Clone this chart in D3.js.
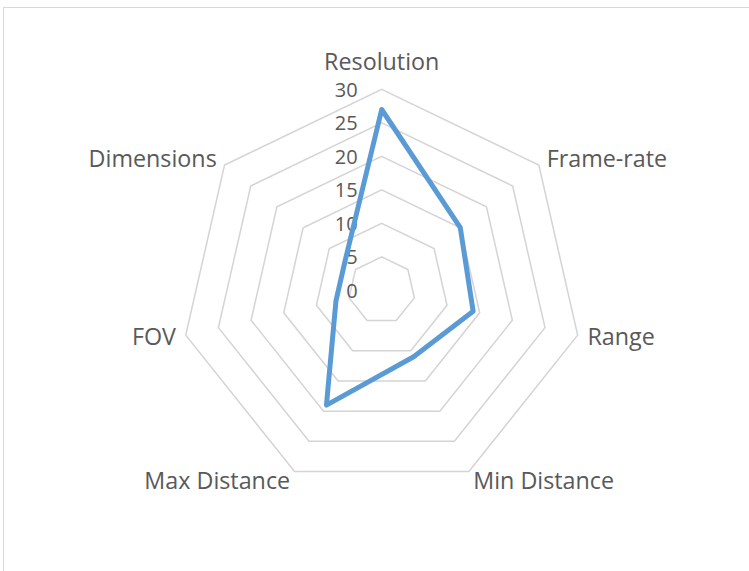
<!DOCTYPE html>
<html><head><meta charset="utf-8">
<script src="https://cdn.jsdelivr.net/npm/d3@7"></script>
<style>html,body{margin:0;padding:0;background:#fff;}svg{display:block;}</style>
</head><body>
<svg id="chart" width="749" height="571"></svg>
<script>
const categories = ["Resolution", "Frame-rate", "Range", "Min Distance", "Max Distance", "FOV", "Dimensions"];
const values = [27, 15, 14, 11, 19, 7, 7];
const tickValues = [0, 5, 10, 15, 20, 25, 30];

const svg = d3.select("#chart");
const cx = 381.7, cy = 290.4, R = 201;
const font = "'Open Sans', 'Liberation Sans', sans-serif";
const textColor = "#595959";

// chart border
svg.append("rect").attr("x", 3.5).attr("y", 7.5).attr("width", 800).attr("height", 600)
  .attr("fill", "none").attr("stroke", "#d9d9d9").attr("stroke-width", 1);

const r = d3.scaleLinear().domain([0, 30]).range([0, R]);
const ang = i => i * 2 * Math.PI / categories.length;

const g = svg.append("g").attr("transform", `translate(${cx},${cy})`);

// grid rings
const ringLine = d3.lineRadial().angle((d, i) => ang(i)).radius(d => r(d)).curve(d3.curveLinearClosed);
tickValues.filter(t => t > 0).forEach(t => {
  g.append("path").attr("d", ringLine(categories.map(() => t)))
    .attr("fill", "none").attr("stroke", "#d4d4d4").attr("stroke-width", 1.5);
});

// tick labels
tickValues.forEach(t => {
  g.append("text").attr("x", -24).attr("y", -r(t)).attr("dy", "0.36em")
    .attr("text-anchor", "end").attr("font-family", font).attr("font-size", 20)
    .attr("fill", textColor).text(t);
});

// category labels
categories.forEach((c, i) => {
  const a = ang(i);
  const lr = R + 10;
  const x = lr * Math.sin(a), y = -lr * Math.cos(a);
  let anchor = Math.abs(x) < 1 ? "middle" : (x > 0 ? "start" : "end");
  const t = g.append("text").attr("x", x).attr("font-family", font).attr("font-size", 23.3)
    .attr("fill", textColor).attr("text-anchor", anchor).text(c);
  if (i === 0) t.attr("y", y - 9);
  else t.attr("y", y).attr("dy", "0.35em");
});

// data line
const dataLine = d3.lineRadial().angle((d, i) => ang(i)).radius(d => r(d)).curve(d3.curveLinearClosed);
g.append("path").attr("d", dataLine(values))
  .attr("fill", "none").attr("stroke", "#5b9bd5").attr("stroke-width", 5)
  .attr("stroke-linejoin", "round");
</script>
</body></html>
